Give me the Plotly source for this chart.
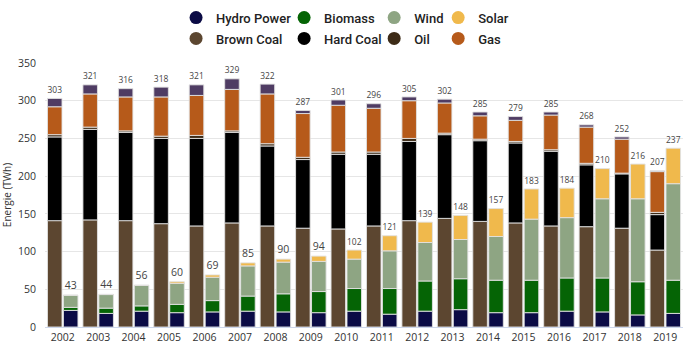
import plotly.graph_objects as go

years = [str(y) for y in range(2002, 2020)]

# Conventional (left bar of each year)
brown_coal = [141, 142, 141, 137, 134, 138, 134, 131, 130, 134, 141, 144, 140, 138, 134, 133, 131, 102]
hard_coal = [111, 120, 117, 113, 116, 120, 106, 91, 99, 95, 105, 111, 107, 106, 99, 82, 72, 47]
oil = [3, 3, 2, 3, 4, 2, 3, 3, 3, 3, 4, 2, 2, 2, 2, 2, 1, 3]
gas = [37, 44, 45, 52, 53, 55, 66, 58, 62, 58, 50, 40, 31, 28, 46, 48, 45, 54]
other = [11, 12, 11, 13, 14, 14, 13, 4, 7, 6, 5, 5, 5, 5, 4, 3, 3, 1]
conv_total = [303, 321, 316, 318, 321, 329, 322, 287, 301, 296, 305, 302, 285, 279, 285, 268, 252, 207]

# Renewables (right bar of each year)
hydro = [22, 18, 21, 19, 20, 21, 20, 19, 21, 17, 21, 23, 19, 19, 21, 20, 16, 18]
biomass = [4, 7, 7, 11, 15, 20, 24, 28, 30, 34, 40, 41, 43, 43, 44, 45, 44, 44]
wind = [16, 18, 27, 28, 31, 40, 42, 40, 39, 50, 51, 52, 58, 81, 80, 105, 110, 128]
solar = [0.2, 0.3, 0.6, 2, 3, 4, 4, 7, 12, 20, 27, 32, 37, 40, 39, 40, 46, 47]
ren_total = [43, 44, 56, 60, 69, 85, 90, 94, 102, 121, 139, 148, 157, 183, 184, 210, 216, 237]

COL = {
    "Hydro Power": "#0b0b45",
    "Biomass": "#056405",
    "Wind": "#8ea583",
    "Solar": "#f0b94c",
    "Brown Coal": "#5c4630",
    "Hard Coal": "#000000",
    "Oil": "#3d2b17",
    "Gas": "#b65a1a",
    "Other": "#4f3c63",
}

FONT = "Open Sans"
LINE = dict(color="rgba(225,225,225,0.9)", width=1)
W = 0.41
OFF_L = -0.43
OFF_R = 0.02

fig = go.Figure()

left = [("Brown Coal", brown_coal), ("Hard Coal", hard_coal), ("Oil", oil), ("Gas", gas), ("Other", other)]
for name, vals in left:
    kw = {}
    if name == "Other":
        kw = dict(text=[str(t) for t in conv_total], textposition="outside",
                  textfont=dict(family=FONT, size=10.5, color="#444"), cliponaxis=False)
    fig.add_trace(go.Bar(x=years, y=vals, name=name, marker=dict(color=COL[name], line=LINE),
                         width=W, offset=OFF_L, showlegend=False, xaxis="x", yaxis="y",
                         hoverinfo="x+y+name", **kw))

right = [("Hydro Power", hydro), ("Biomass", biomass), ("Wind", wind), ("Solar", solar)]
for name, vals in right:
    kw = {}
    if name == "Solar":
        kw = dict(text=[str(t) for t in ren_total], textposition="outside",
                  textfont=dict(family=FONT, size=10.5, color="#444"), cliponaxis=False)
    fig.add_trace(go.Bar(x=years, y=vals, name=name, marker=dict(color=COL[name], line=LINE),
                         width=W, offset=OFF_R, showlegend=False, xaxis="x2", yaxis="y",
                         hoverinfo="x+y+name", **kw))

# Legend entries (circle markers), 4 columns x 2 rows
columns = [("legend", ["Hydro Power", "Brown Coal"]),
           ("legend2", ["Biomass", "Hard Coal"]),
           ("legend3", ["Wind", "Oil"]),
           ("legend4", ["Solar", "Gas"])]
for lg, names in columns:
    for n in names:
        fig.add_trace(go.Scatter(x=[None], y=[None], mode="markers", name=n, legend=lg,
                                 legendgroup=n,
                                 marker=dict(symbol="circle", size=13, color=COL[n]),
                                 showlegend=True, xaxis="x", yaxis="y"))

PL, PR, PT, PB = 45, 2.3, 58, 17
pw = 685 - PL - PR
ph = 346 - PT - PB
col_px = [176, 284, 374, 438]
leg_common = dict(orientation="v", yanchor="top", xanchor="left",
                  font=dict(family="Roboto", size=13, color="#222", weight=500),
                  bgcolor="rgba(0,0,0,0)", tracegroupgap=1, itemsizing="trace")
legends = {}
for i, (lg, _) in enumerate(columns):
    legends[lg] = dict(leg_common, x=(col_px[i] - PL) / pw, y=1 + (PT + 4) / ph)

fig.update_layout(
    width=685, height=346,
    margin=dict(l=PL, r=PR, t=PT, b=PB),
    paper_bgcolor="white", plot_bgcolor="white",
    barmode="relative",
    font=dict(family=FONT, size=11, color="#333"),
    xaxis=dict(type="category", range=[-0.5, 17.5], showgrid=False, showline=True,
               linecolor="#ccd6eb", linewidth=1, ticks="", tickfont=dict(size=10.5, color="#333"),
               fixedrange=True),
    xaxis2=dict(type="category", range=[-0.5, 17.5], overlaying="x", visible=False,
                fixedrange=True),
    yaxis=dict(range=[0, 350], dtick=50, showgrid=True, gridcolor="#e6e6e6", gridwidth=1,
               zeroline=False, showline=False, tickfont=dict(size=10.5, color="#333"),
               ticklabelstandoff=8,
               title=dict(text="Energie (TWh)", font=dict(size=10, color="#333"), standoff=8),
               fixedrange=True),
    **legends,
)

fig.write_html("out.html", config={"displayModeBar": False},
               post_script="document.body.style.margin='0';document.body.style.overflow='hidden';")
